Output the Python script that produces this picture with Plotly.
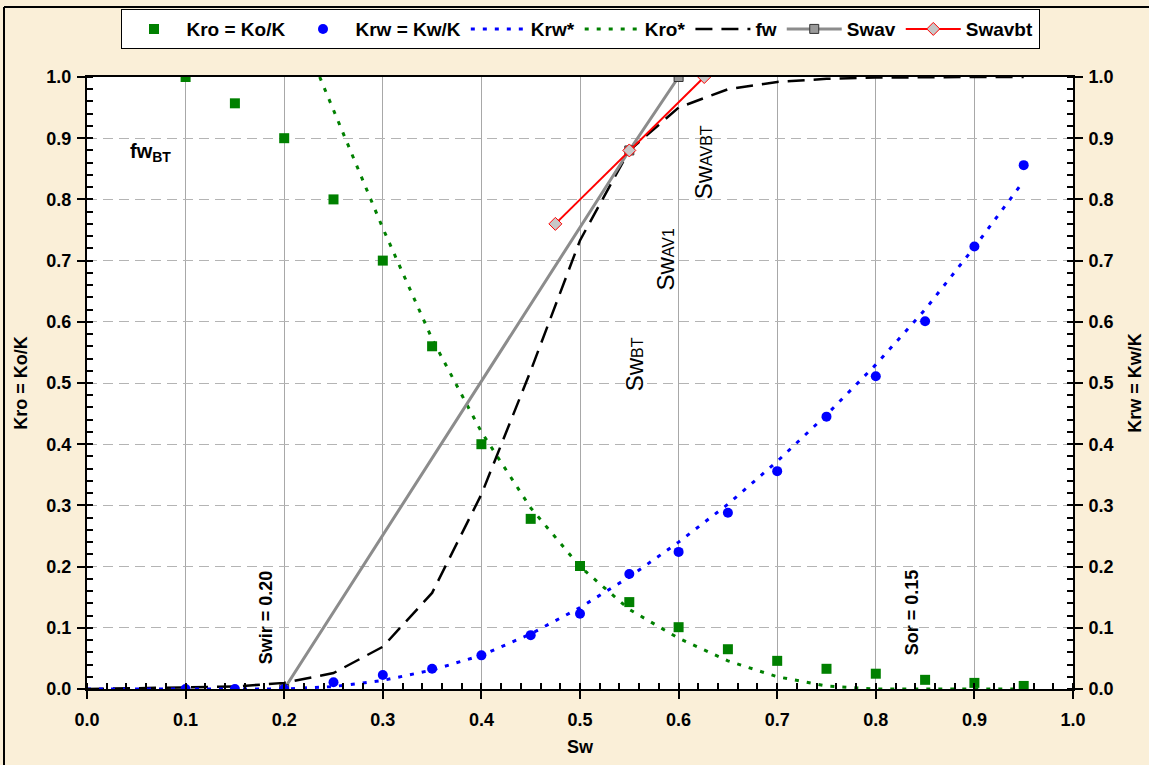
import plotly.graph_objects as go

# Water saturation grid for the measured relative permeabilities
sw_pts = [0.10, 0.15, 0.20, 0.25, 0.30, 0.35, 0.40, 0.45, 0.50, 0.55, 0.60,
          0.65, 0.70, 0.75, 0.80, 0.85, 0.90, 0.95]
kro_pts = [1.000, 0.957, 0.900, 0.800, 0.700, 0.560, 0.400, 0.278, 0.201, 0.142,
           0.101, 0.065, 0.046, 0.033, 0.025, 0.015, 0.010, 0.005]
krw_pts = [0.000, 0.000, 0.000, 0.011, 0.023, 0.033, 0.055, 0.088, 0.123, 0.188,
           0.224, 0.288, 0.356, 0.445, 0.511, 0.601, 0.723, 0.856]

# Normalised (model) curves
sw_krw_star = [0.00, 0.05, 0.10, 0.15, 0.20, 0.25, 0.30, 0.35, 0.40, 0.45, 0.50,
               0.55, 0.60, 0.65, 0.70, 0.75, 0.80, 0.85, 0.90, 0.95]
krw_star = [0.000, 0.000, 0.000, 0.000, 0.000, 0.004, 0.014, 0.031, 0.055, 0.090,
            0.133, 0.183, 0.240, 0.302, 0.372, 0.448, 0.530, 0.620, 0.722, 0.830]
sw_kro_star = [0.236, 0.25, 0.30, 0.35, 0.40, 0.45, 0.50, 0.55, 0.60, 0.65, 0.70,
               0.75, 0.80, 0.85, 0.90, 0.95]
kro_star = [1.000, 0.946, 0.753, 0.572, 0.420, 0.296, 0.200, 0.130, 0.083, 0.046,
            0.020, 0.005, 0.000, 0.000, 0.000, 0.000]

# Fractional flow of water
sw_fw = [0.00, 0.05, 0.10, 0.15, 0.20, 0.25, 0.30, 0.35, 0.40, 0.45, 0.50, 0.55,
         0.60, 0.65, 0.70, 0.75, 0.80, 0.85, 0.90, 0.95]
fw = [0.000, 0.001, 0.002, 0.004, 0.010, 0.026, 0.069, 0.157, 0.318, 0.520, 0.733,
      0.880, 0.950, 0.980, 0.992, 0.997, 0.999, 1.000, 1.000, 1.000]

# Average water saturation tangents
sw_av = [0.20, 0.55, 0.60]
fw_av = [0.00, 0.88, 1.00]
sw_avbt = [0.475, 0.55, 0.626]
fw_avbt = [0.760, 0.88, 1.000]

FONT = "Arial, Liberation Sans, sans-serif"
BG = "#FAEFD8"

fig = go.Figure()

fig.add_trace(go.Scatter(x=sw_krw_star, y=krw_star, mode="lines", name="Krw*",
                         line=dict(color="#0000FF", width=3, dash="4px,8px"),
                         legendrank=3, yaxis="y2"))
fig.add_trace(go.Scatter(x=sw_kro_star, y=kro_star, mode="lines", name="Kro*",
                         line=dict(color="#008000", width=3, dash="4px,8px"),
                         legendrank=4))
fig.add_trace(go.Scatter(x=sw_fw, y=fw, mode="lines", name="fw",
                         line=dict(color="black", width=2.5, dash="17px,9px"),
                         legendrank=5))
fig.add_trace(go.Scatter(x=sw_pts, y=kro_pts, mode="markers", name="Kro = Ko/K",
                         marker=dict(symbol="square", size=10, color="#008000"),
                         legendrank=1))
fig.add_trace(go.Scatter(x=sw_pts, y=krw_pts, mode="markers", name="Krw = Kw/K",
                         marker=dict(symbol="circle", size=10, color="#0000FF"),
                         legendrank=2, yaxis="y2"))
fig.add_trace(go.Scatter(x=sw_av, y=fw_av, mode="lines+markers", name="Swav",
                         line=dict(color="#8C8C8C", width=3),
                         marker=dict(symbol="square", size=9, color="#9A9A9A",
                                     line=dict(color="#333333", width=1)),
                         legendrank=6))
fig.add_trace(go.Scatter(x=sw_avbt, y=fw_avbt, mode="lines+markers", name="Swavbt",
                         line=dict(color="#FF0000", width=2),
                         marker=dict(symbol="diamond", size=10, color="#C8C8C8",
                                     line=dict(color="#FF0000", width=1)),
                         legendrank=7))

tick_font = dict(family=FONT, size=18, color="black", weight="bold")
title_font = dict(family=FONT, size=18, color="black", weight="bold")

common_y = dict(range=[0, 1], dtick=0.1, tickformat=".1f", showline=True,
                linecolor="black", linewidth=2, ticks="outside", ticklen=8,
                tickwidth=1.5, tickcolor="black", tickfont=tick_font,
                zeroline=False, automargin=False,
                minor=dict(dtick=0.02, ticks="inside", ticklen=6,
                           tickcolor="black", showgrid=False))

fig.update_layout(
    width=1149, height=765,
    margin=dict(l=87, r=76, t=77, b=76, autoexpand=False),
    paper_bgcolor=BG, plot_bgcolor="white",
    font=dict(family=FONT, color="black"),
    showlegend=True,
    legend=dict(orientation="h", x=0.5, xanchor="center", y=1.111, yanchor="top",
                bgcolor="white", bordercolor="black", borderwidth=1,
                font=dict(family=FONT, size=19, color="black", weight="bold"),
                itemwidth=55, traceorder="normal"),
    xaxis=dict(range=[0, 1], dtick=0.1, tickformat=".1f", showline=True,
               linecolor="black", linewidth=2, mirror=True, automargin=False,
               ticks="outside", ticklen=8, tickwidth=1.5, tickcolor="black",
               tickfont=tick_font, zeroline=False, ticklabelstandoff=5,
               showgrid=True, gridcolor="#A8A8A8", gridwidth=1,
               minor=dict(dtick=0.02, ticks="inside", ticklen=6,
                          tickcolor="black", showgrid=False),
               title=dict(text="Sw", font=title_font, standoff=12)),
    yaxis=dict(**common_y, showgrid=True, gridcolor="#B4B4B4", gridwidth=1,
               griddash="10px,6px", ticklabelstandoff=2,
               title=dict(text="Kro = Ko/K", font=title_font, standoff=14)),
    yaxis2=dict(**common_y, overlaying="y", side="right", showgrid=False,
                ticklabelstandoff=2,
                title=dict(text="Krw = Kw/K", font=title_font, standoff=16)),
)

# Frame around the figure
fig.add_shape(type="line", xref="paper", yref="paper",
              x0=-83 / 986, x1=1.2, y0=1 + 70 / 612, y1=1 + 70 / 612,
              line=dict(color="black", width=2))
fig.add_shape(type="line", xref="paper", yref="paper",
              x0=-83 / 986, x1=-83 / 986, y0=-0.2, y1=1 + 70 / 612,
              line=dict(color="black", width=2))

big = "font-size:24px"
small = "font-size:16px"
notes = [
    dict(x=0.064, y=0.876, text="<b>fw<sub>BT</sub></b>", textangle=0, size=20),
    dict(x=0.555, y=0.531, text=f"<span style='{big}'>Sw</span><span style='{small}'>BT</span>",
         textangle=-90, size=24),
    dict(x=0.587, y=0.703, text=f"<span style='{big}'>Sw</span><span style='{small}'>AV1</span>",
         textangle=-90, size=24),
    dict(x=0.625, y=0.861, text=f"<span style='{big}'>Sw</span><span style='{small}'>AVBT</span>",
         textangle=-90, size=24),
    dict(x=0.181, y=0.118, text="<b>Swir = 0.20</b>", textangle=-90, size=18),
    dict(x=0.837, y=0.126, text="<b>Sor = 0.15</b>", textangle=-90, size=18),
]
for n in notes:
    fig.add_annotation(x=n["x"], y=n["y"], xref="x", yref="y", text=n["text"],
                       textangle=n["textangle"], showarrow=False,
                       font=dict(family=FONT, size=n["size"], color="black"))

fig.write_html("out.html")
